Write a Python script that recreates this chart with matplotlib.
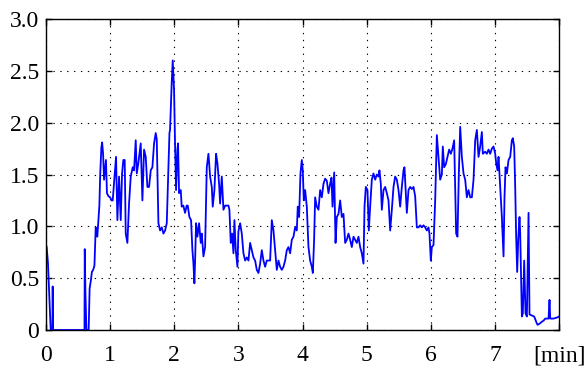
import numpy as np
import matplotlib
matplotlib.use('Agg')
import matplotlib.pyplot as plt

matplotlib.rcParams.update({
    'font.family': 'serif',
    'font.serif': ['Liberation Serif', 'DejaVu Serif'],
    'font.size': 17,
    'xtick.labelsize': 17,
    'ytick.labelsize': 17,
})

# time [min] and value
t_min = [
    0.00, 0.01, 0.03, 0.073, 0.10, 0.104, 0.11, 0.60, 0.604, 0.615, 0.63, 0.665,
    0.68, 0.70, 0.715, 0.735, 0.755, 0.775, 0.79, 0.80, 0.815, 0.832, 0.845, 0.863,
    0.875, 0.89, 0.905, 0.92, 0.935, 0.95, 0.975, 1.00, 1.02, 1.04,
    1.076, 1.092, 1.113, 1.139, 1.165, 1.186, 1.206, 1.227, 1.243, 1.269, 1.295,
    1.321, 1.352, 1.373, 1.399, 1.415, 1.44, 1.477, 1.503, 1.529, 1.555, 1.581,
    1.607, 1.633, 1.659, 1.685, 1.711, 1.727, 1.753, 1.779, 1.805, 1.831, 1.857,
    1.883, 1.925, 1.934, 1.96, 1.976, 1.997, 2.012, 2.028, 2.049, 2.059, 2.075,
    2.101, 2.116, 2.142, 2.168, 2.194, 2.21, 2.236, 2.262, 2.283, 2.298, 2.314,
    2.324, 2.34, 2.361, 2.387, 2.413, 2.429, 2.455, 2.481, 2.507, 2.533, 2.559,
    2.585, 2.60, 2.626, 2.652, 2.673, 2.699, 2.715, 2.741, 2.767, 2.793, 2.819,
    2.845, 2.86, 2.881, 2.902, 2.923, 2.938, 2.959, 2.985, 3.0, 3.027, 3.053,
    3.079, 3.105, 3.131, 3.157, 3.183, 3.209, 3.235, 3.261, 3.287, 3.313, 3.339,
    3.365, 3.391, 3.417, 3.443, 3.469, 3.495, 3.521, 3.547, 3.573, 3.599, 3.625,
    3.651, 3.677, 3.703, 3.729, 3.755, 3.781, 3.807, 3.833, 3.859, 3.885, 3.911,
    3.926, 3.947, 3.968, 3.989, 4.004, 4.02, 4.041, 4.067, 4.093, 4.119, 4.145,
    4.161, 4.181, 4.197, 4.223, 4.249, 4.275, 4.301, 4.327, 4.353, 4.379, 4.405,
    4.431, 4.452, 4.468, 4.494, 4.515, 4.535, 4.561, 4.587, 4.613, 4.639, 4.665,
    4.691, 4.717, 4.743, 4.769, 4.795, 4.821, 4.847, 4.873, 4.899, 4.925, 4.951,
    4.967, 4.987, 5.013, 5.034, 5.055, 5.081, 5.107, 5.133, 5.159, 5.185, 5.2,
    5.221, 5.237, 5.263, 5.289, 5.315, 5.341, 5.367, 5.393, 5.419, 5.445, 5.471,
    5.497, 5.523, 5.549, 5.575, 5.59, 5.611, 5.627, 5.653, 5.679, 5.705, 5.731,
    5.757, 5.783, 5.809, 5.835, 5.861, 5.887, 5.913, 5.939, 5.965, 5.98, 6.001,
    6.017, 6.043, 6.069, 6.095, 6.121, 6.147, 6.173, 6.188, 6.209, 6.235, 6.261,
    6.287, 6.313, 6.339, 6.365, 6.381, 6.396, 6.417, 6.438, 6.459, 6.485, 6.511,
    6.537, 6.563, 6.589, 6.615, 6.641, 6.667, 6.693, 6.719, 6.745, 6.771, 6.797,
    6.812, 6.849, 6.875, 6.901, 6.927, 6.953, 6.979, 7.005, 7.02, 7.041, 7.057,
    7.083, 7.109, 7.135, 7.15, 7.166, 7.187, 7.213, 7.239, 7.265, 7.28, 7.301,
    7.317, 7.332, 7.348, 7.364, 7.384, 7.395, 7.421, 7.436, 7.457, 7.478, 7.499,
    7.525, 7.54, 7.577, 7.613, 7.644, 7.665, 7.696, 7.733, 7.759, 7.785, 7.811,
    7.837, 7.852, 7.863, 7.915, 7.967, 8.0,
]
value = [
    0.82, 0.80, 0.65, 0.0, 0.0, 0.42, 0.0, 0.0, 0.78, 0.35, 0.0, 0.0,
    0.40, 0.48, 0.56, 0.58, 0.62, 0.99, 0.92, 0.90, 1.04, 1.20, 1.50, 1.76,
    1.81, 1.70, 1.45, 1.55, 1.64, 1.32, 1.29, 1.28, 1.25, 1.25,
    1.54, 1.67, 1.06, 1.48, 1.06, 1.51, 1.64, 1.64, 0.93, 0.84, 1.22,
    1.48, 1.57, 1.54, 1.83, 1.51, 1.61, 1.80, 1.25, 1.74, 1.67, 1.38,
    1.38, 1.54, 1.57, 1.80, 1.90, 1.84, 1.03, 0.96, 0.99, 0.93, 0.96,
    1.03, 1.90, 1.93, 2.38, 2.60, 2.31, 1.80, 1.35, 1.74, 1.80, 1.32,
    1.35, 1.19, 1.20, 1.13, 1.20, 1.20, 1.09, 1.06, 0.77, 0.65, 0.45,
    0.65, 1.03, 0.90, 1.03, 0.84, 0.93, 0.71, 0.80, 1.57, 1.70, 1.48,
    1.38, 1.19, 1.35, 1.70, 1.61, 1.41, 1.22, 1.48, 1.16, 1.20, 1.20,
    1.20, 1.16, 0.84, 0.93, 0.74, 1.06, 0.77, 0.61, 0.95, 1.03, 0.93,
    0.74, 0.67, 0.70, 0.67, 0.84, 0.77, 0.70, 0.67, 0.58, 0.55, 0.64,
    0.77, 0.67, 0.61, 0.67, 0.67, 0.67, 1.06, 0.96, 0.77, 0.58, 0.67,
    0.61, 0.58, 0.61, 0.67, 0.77, 0.80, 0.74, 0.87, 0.90, 0.99, 0.96,
    1.19, 1.09, 1.51, 1.64, 1.54, 1.25, 1.35, 1.19, 0.80, 0.67, 0.61,
    0.55, 0.87, 1.28, 1.19, 1.16, 1.35, 1.28, 1.41, 1.46, 1.44, 1.32,
    1.41, 1.47, 1.19, 1.52, 0.84, 1.09, 1.12, 1.25, 1.09, 1.12, 0.84,
    0.87, 0.93, 0.87, 0.80, 0.90, 0.87, 0.84, 0.90, 0.80, 0.74, 0.64,
    1.19, 1.38, 1.35, 0.96, 1.19, 1.45, 1.51, 1.45, 1.50, 1.48, 1.54,
    1.41, 1.16, 1.35, 1.38, 1.32, 1.25, 0.96, 1.16, 1.38, 1.48, 1.45,
    1.35, 1.19, 1.38, 1.54, 1.57, 1.32, 1.13, 1.35, 1.38, 1.36, 1.38,
    1.29, 0.99, 0.99, 1.01, 0.99, 1.01, 0.99, 0.96, 0.99, 0.93, 0.67,
    0.80, 0.82, 1.25, 1.88, 1.67, 1.45, 1.50, 1.77, 1.57, 1.60, 1.67,
    1.74, 1.70, 1.75, 1.83, 1.38, 0.93, 0.90, 1.51, 1.96, 1.67, 1.51,
    1.45, 1.28, 1.35, 1.28, 1.28, 1.45, 1.83, 1.93, 1.67, 1.77, 1.91,
    1.70, 1.72, 1.70, 1.74, 1.70, 1.75, 1.77, 1.70, 1.61, 1.54, 1.67,
    1.38, 1.09, 0.71, 1.28, 1.57, 1.51, 1.64, 1.67, 1.83, 1.85, 1.77,
    1.38, 0.90, 0.56, 0.87, 1.09, 0.93, 0.13, 0.16, 0.67, 0.16, 0.13,
    1.13, 0.15, 0.14, 0.13, 0.08, 0.05, 0.06, 0.08, 0.09, 0.11, 0.11,
    0.11, 0.29, 0.11, 0.11, 0.12, 0.13,
]

x_ticks = [0, 1, 2, 3, 4, 5, 6, 7, 8]
x_labels = ['0', '1', '2', '3', '4', '5', '6', '7', '[min]']
y_ticks = [0, 0.5, 1.0, 1.5, 2.0, 2.5, 3.0]
y_labels = ['0', '0.5', '1.0', '1.5', '2.0', '2.5', '3.0']

fig = plt.figure(figsize=(5.87, 3.69), dpi=100)
ax = fig.add_axes([0.0784, 0.1057, 0.8739, 0.8428])

ax.plot(t_min, value, color='#0000ff', lw=1.3)

ax.set_xlim(0, 8)
ax.set_ylim(0, 3)
ax.set_xticks(x_ticks)
ax.set_xticklabels(x_labels)
ax.set_yticks(y_ticks)
ax.set_yticklabels(y_labels)

ax.tick_params(direction='in', length=4, width=1, top=True, right=True)
ax.tick_params(axis='x', pad=11)
ax.tick_params(axis='y', pad=5)
ax.grid(True, color='black', linestyle=(0, (1.2, 5.0)), lw=0.8)
for s in ax.spines.values():
    s.set_linewidth(1.0)

fig.savefig('out.png', dpi=100)
